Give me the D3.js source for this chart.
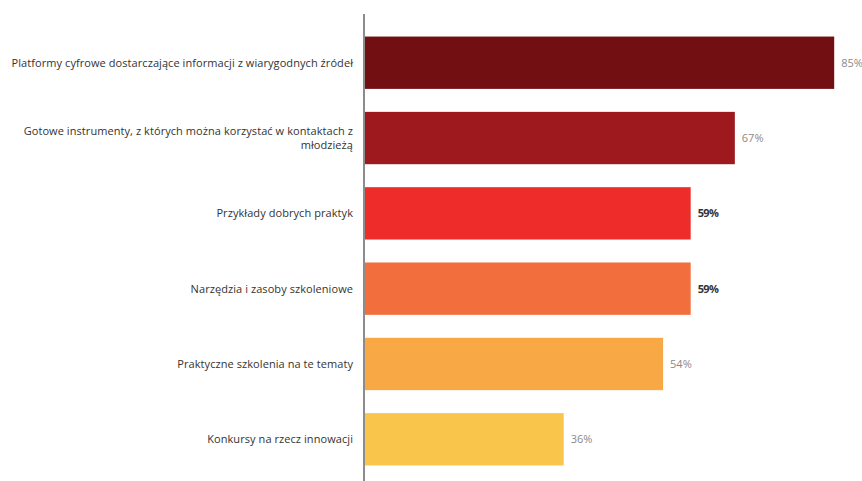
<!DOCTYPE html>
<html>
<head>
<meta charset="utf-8">
<script src="https://cdn.jsdelivr.net/npm/d3@7"></script>
<style>
  html, body { margin: 0; padding: 0; background: #fff; }
  svg { display: block; }
</style>
</head>
<body>
<svg id="chart" width="862" height="481"></svg>
<script>
// Categories (top to bottom), each as one or more label lines
const categories = [
  ["Platformy cyfrowe dostarczające informacji z wiarygodnych źródeł"],
  ["Gotowe instrumenty, z których można korzystać w kontaktach z", "młodzieżą"],
  ["Przykłady dobrych praktyk"],
  ["Narzędzia i zasoby szkoleniowe"],
  ["Praktyczne szkolenia na te tematy"],
  ["Konkursy na rzecz innowacji"]
];
const values = [85, 67, 59, 59, 54, 36];
const barColors = ["#720f12", "#9d191d", "#ee2d2a", "#f26e3c", "#f8a845", "#f9c64b"];
const boldLabels = [false, false, true, true, false, false];

const svg = d3.select("#chart");
const axisX = 364;

const x = d3.scaleLinear().domain([0, 100]).range([axisX + 1, axisX + 1 + 552]);
const y = d3.scaleBand()
  .domain(d3.range(categories.length))
  .range([24.5, 477.5])
  .paddingInner(0.305)
  .paddingOuter(0.16);

// Bars
svg.append("g").selectAll("rect")
  .data(values)
  .join("rect")
  .attr("x", x(0))
  .attr("y", (d, i) => y(i))
  .attr("width", d => x(d) - x(0))
  .attr("height", y.bandwidth())
  .attr("fill", (d, i) => barColors[i]);

// Category labels, right-aligned next to the axis
const font = "'Open Sans', 'Noto Sans', sans-serif";
const lineH = 14;
const labels = svg.append("g")
  .attr("font-family", font)
  .attr("font-size", 11)
  .attr("letter-spacing", "0.07")
  .attr("fill", "#333")
  .attr("text-anchor", "end");

categories.forEach((lines, i) => {
  const cy = y(i) + y.bandwidth() / 2;
  const t = labels.append("text")
    .attr("x", axisX - 11)
    .attr("y", cy - (lines.length - 1) * lineH / 2);
  lines.forEach((ln, k) => {
    t.append("tspan")
      .attr("x", axisX - 11)
      .attr("dy", k === 0 ? "0.35em" : lineH)
      .text(ln);
  });
});

// Value labels
svg.append("g")
  .attr("font-family", font)
  .attr("font-size", 11)
  .selectAll("text")
  .data(values)
  .join("text")
  .attr("x", d => x(d) + 7)
  .attr("y", (d, i) => y(i) + y.bandwidth() / 2)
  .attr("dy", "0.35em")
  .attr("fill", (d, i) => boldLabels[i] ? "#333" : "#8a8a8a")
  .attr("font-weight", (d, i) => boldLabels[i] ? 700 : 400)
  .attr("letter-spacing", (d, i) => boldLabels[i] ? "-0.6" : "0")
  .text(d => d + "%");

// Vertical axis line
svg.append("line")
  .attr("x1", axisX).attr("x2", axisX)
  .attr("y1", 14).attr("y2", 481)
  .attr("stroke", "#666")
  .attr("stroke-width", 1.5);
</script>
</body>
</html>
